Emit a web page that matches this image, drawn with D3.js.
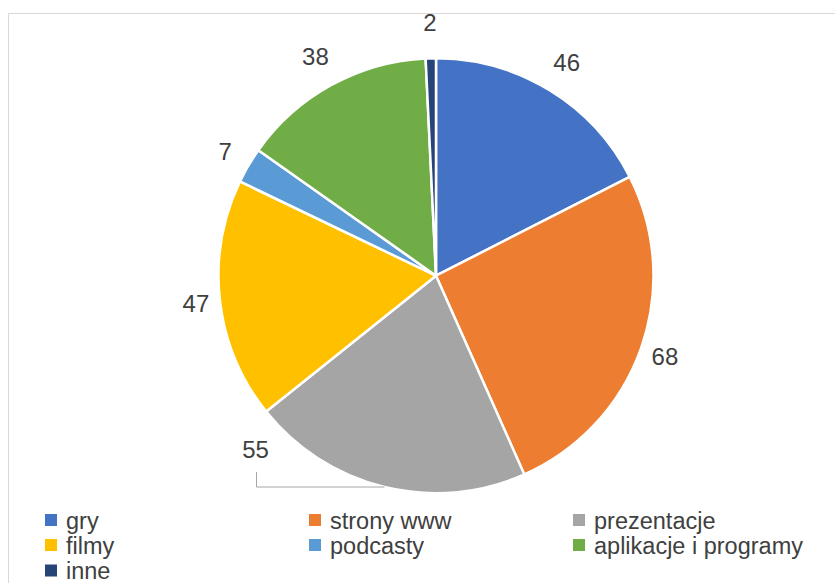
<!DOCTYPE html>
<html>
<head>
<meta charset="utf-8">
<script src="https://cdn.jsdelivr.net/npm/d3@7"></script>
<style>
  html, body { margin: 0; padding: 0; background: #fff; }
  svg { display: block; }
</style>
</head>
<body>
<svg id="chart" width="835" height="583"></svg>
<script>
// Categories and values of the pie
const categories = ["gry", "strony www", "prezentacje", "filmy", "podcasty", "aplikacje i programy", "inne"];
const values = [46, 68, 55, 47, 7, 38, 2];
const colors = ["#4472C4", "#ED7D31", "#A5A5A5", "#FFC000", "#5B9BD5", "#70AD47", "#264478"];

const width = 835, height = 583;
const cx = 436, cy = 275.7, radius = 217.5;
const textColor = "#404040";
const fontFamily = "'Liberation Sans', Arial, sans-serif";

const svg = d3.select("#chart");

// chart-area frame
svg.append("rect")
  .attr("x", 8.5).attr("y", 13.5)
  .attr("width", width + 10).attr("height", height + 10)
  .attr("fill", "#fff").attr("stroke", "#D9D9D9").attr("stroke-width", 1);

const data = categories.map((c, i) => ({ name: c, value: values[i], color: colors[i] }));

const pie = d3.pie().sort(null).value(d => d.value).startAngle(0).endAngle(2 * Math.PI);
const arcs = pie(data);
const arc = d3.arc().innerRadius(0).outerRadius(radius);

const g = svg.append("g").attr("transform", `translate(${cx},${cy})`);

g.selectAll("path.slice")
  .data(arcs)
  .enter().append("path")
  .attr("class", "slice")
  .attr("d", arc)
  .attr("fill", d => d.data.color)
  .attr("stroke", "#fff")
  .attr("stroke-width", 2.5)
  .attr("stroke-linejoin", "round");

// Data labels placed outside the slice end
const labelSize = 24;
function midAngle(d) { return (d.startAngle + d.endAngle) / 2; }
function labelPos(d) {
  const a = midAngle(d);
  const c = Math.cos(a);
  const rr = radius + 24 + 12 * c * c;
  return [rr * Math.sin(a), -rr * Math.cos(a)];
}
// label for "prezentacje" is pulled aside with a leader line
const movedLabel = { name: "prezentacje", dx: -129, dy: -38 };

arcs.forEach(d => {
  let x, y;
  const a = midAngle(d);
  if (d.data.name === movedLabel.name) {
    const ex = radius * Math.sin(a), ey = -radius * Math.cos(a);
    x = ex + movedLabel.dx; y = ey + movedLabel.dy;
    const bottom = y + 23;
    g.append("path")
      .attr("d", `M${ex},${ey} L${x + 1},${ey} L${x + 1},${bottom}`)
      .attr("fill", "none")
      .attr("stroke", "#A6A6A6")
      .attr("stroke-width", 1);
  } else {
    [x, y] = labelPos(d);
  }
  g.append("text")
    .attr("x", x).attr("y", y + labelSize * 0.36)
    .attr("text-anchor", "middle")
    .attr("font-family", fontFamily)
    .attr("font-size", labelSize)
    .attr("fill", textColor)
    .text(d.data.value);
});

// Legend: three columns
const legendCols = [45, 309, 573];
const legendRows = [520, 545, 570.5];
const legendSize = 23.5;
const legend = svg.append("g");
data.forEach((d, i) => {
  const col = i % 3, row = Math.floor(i / 3);
  const lx = legendCols[col], ly = legendRows[row];
  legend.append("rect")
    .attr("x", lx).attr("y", ly - 6)
    .attr("width", 12).attr("height", 12)
    .attr("fill", d.color);
  legend.append("text")
    .attr("x", lx + 21).attr("y", ly + 8.5)
    .attr("font-family", fontFamily)
    .attr("font-size", legendSize)
    .attr("fill", textColor)
    .text(d.name);
});
</script>
</body>
</html>
